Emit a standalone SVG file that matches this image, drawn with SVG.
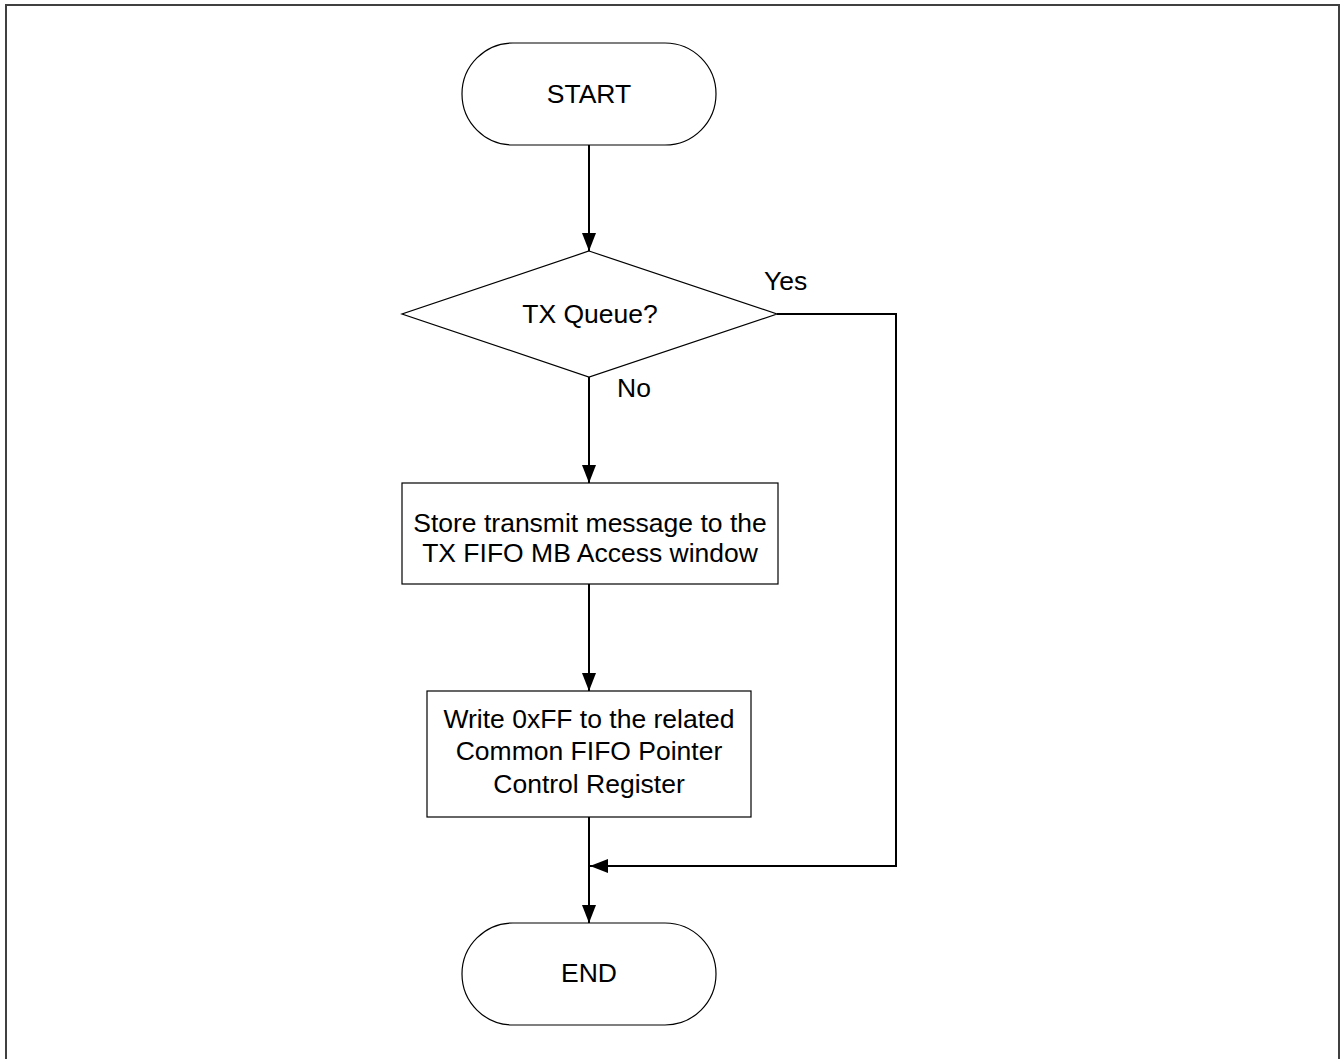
<svg xmlns="http://www.w3.org/2000/svg" width="1341" height="1059" viewBox="0 0 1341 1059">
<defs>
<style>
.shape{fill:#fff;stroke:#000;stroke-width:1.2}
.conn{fill:none;stroke:#000;stroke-width:2}
text{font-family:"Liberation Sans",Arial,sans-serif;font-size:26.5px;fill:#000;text-anchor:middle}
.lbl{text-anchor:start}
</style>
<marker id="arr" viewBox="0 0 18 14" refX="18" refY="7" markerWidth="18" markerHeight="14" markerUnits="userSpaceOnUse" orient="auto">
<path d="M0,0 L18,7 L0,14 Z" fill="#000"/>
</marker>
</defs>
<rect x="0" y="0" width="1341" height="1059" fill="#fff"/>
<rect x="6" y="5" width="1333" height="1070" fill="none" stroke="#404040" stroke-width="2"/>
<g id="connectors">
<line class="conn" x1="589" y1="145" x2="589" y2="251" marker-end="url(#arr)"/>
<line class="conn" x1="589" y1="377" x2="589" y2="483" marker-end="url(#arr)"/>
<line class="conn" x1="589" y1="584" x2="589" y2="691" marker-end="url(#arr)"/>
<line class="conn" x1="589" y1="817" x2="589" y2="923" marker-end="url(#arr)"/>
<polyline class="conn" points="777,314 896,314 896,866 590,866" marker-end="url(#arr)"/>
<text class="lbl" x="764" y="290">Yes</text>
<text class="lbl" x="617" y="397">No</text>
</g>
<g id="start">
<rect class="shape" x="462" y="43" width="254" height="102" rx="51" ry="51"/>
<text x="589" y="103">START</text>
</g>
<g id="decision">
<polygon class="shape" points="589,251 777,314 589,377 402,314"/>
<text x="590" y="323">TX Queue?</text>
</g>
<g id="store">
<rect class="shape" x="402" y="483" width="376" height="101"/>
<text x="590" y="532">Store transmit message to the</text>
<text x="590" y="562">TX FIFO MB Access window</text>
</g>
<g id="write">
<rect class="shape" x="427" y="691" width="324" height="126"/>
<text x="589" y="728">Write 0xFF to the related</text>
<text x="589" y="760">Common FIFO Pointer</text>
<text x="589" y="793">Control Register</text>
</g>
<g id="end">
<rect class="shape" x="462" y="923" width="254" height="102" rx="51" ry="51"/>
<text x="589" y="982">END</text>
</g>
</svg>
